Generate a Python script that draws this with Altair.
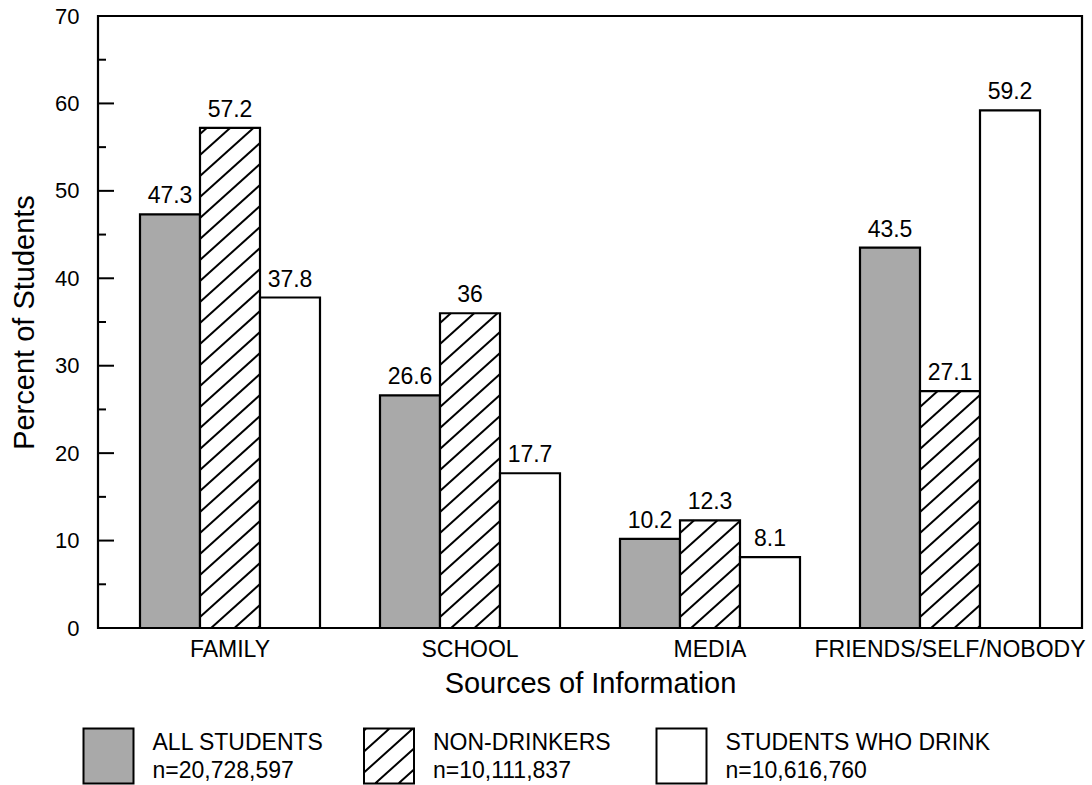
import math
import altair as alt
import pandas as pd

# ---------------- data ----------------
categories = ["FAMILY", "SCHOOL", "MEDIA", "FRIENDS/SELF/NOBODY"]
series = ["ALL STUDENTS", "NON-DRINKERS", "STUDENTS WHO DRINK"]
series_n = ["n=20,728,597", "n=10,111,837", "n=10,616,760"]
all_students = [47.3, 26.6, 10.2, 43.5]
non_drinkers = [57.2, 36.0, 12.3, 27.1]
drinkers = [37.8, 17.7, 8.1, 59.2]
y_major = [0, 10, 20, 30, 40, 50, 60, 70]
y_minor = [5, 15, 25, 35, 45, 55, 65]

# ---------------- styles / layout ----------------
FONT = "Liberation Sans"
W, H = 984, 612
Y_MAX = 70
PAD_IN, PAD_OUT = 0.25, 0.175
X_SPAN = len(categories) - PAD_IN + 2 * PAD_OUT
SUB = (1 - PAD_IN) / len(series)
PX_X = W / X_SPAN
PX_Y = H / Y_MAX
GRAY = "#a9a9a9"
HATCH_SLOPE = 0.9
HATCH_GAP = 21.0
HATCH_PHASE = -10.0
HATCH_IDX = 1
SW, SH = 50, 55                      # legend swatch size (px)
LEGEND_X = [10.5, 291, 583.5]        # legend swatch centres (px from plot left)
LEG_SWATCH_Y = H + 128
LEG_LINE1_Y = H + 122
LEG_LINE2_Y = H + 150


def hatch_segments(width_px, height_px):
    m = HATCH_SLOPE
    c = HATCH_PHASE - HATCH_GAP * math.ceil((m * width_px + HATCH_PHASE) / HATCH_GAP)
    segs = []
    while c < height_px:
        u0 = max(0.0, -c / m)
        u1 = min(width_px, (height_px - c) / m)
        if u1 - u0 > 0.5:
            segs.append((u0, m * u0 + c, u1, m * u1 + c))
        c += HATCH_GAP
    return segs


# bar table
rows = []
for cat, a, n, d in zip(categories, all_students, non_drinkers, drinkers):
    for s, v in zip(series, (a, n, d)):
        rows.append({"cat": cat, "series": s, "value": v})
bars_df = pd.DataFrame(rows)

# hatch lines derived from the non-drinker values
hrows = []
for i, v in enumerate(non_drinkers):
    xl = PAD_OUT + i + SUB * HATCH_IDX
    for u0, w0, u1, w1 in hatch_segments(SUB * PX_X, v * PX_Y):
        hrows.append({"x": xl + u0 / PX_X, "value": w0 / PX_Y,
                      "x2": xl + u1 / PX_X, "value2": w1 / PX_Y})
hatch_df = pd.DataFrame(hrows)

# legend swatch shapes (path units: half-width = 1)
half = SW / 2.0
r = SH / SW
rect_path = f"M-1,{-r}L1,{-r}L1,{r}L-1,{r}Z"
hp = rect_path
for u0, w0, u1, w1 in hatch_segments(SW, SH):
    hp += f"M{u0 / half - 1:.3f},{r - w0 / half:.3f}L{u1 / half - 1:.3f},{r - w1 / half:.3f}"
hatch_path = hp

legend_df = pd.DataFrame({"series": series, "n": series_n, "lx": LEGEND_X})
major_df = pd.DataFrame({"value": y_major})
minor_df = pd.DataFrame({"value": y_minor})

fill_scale = alt.Scale(domain=series, range=[GRAY, "white", "white"])
y_scale = alt.Scale(domain=[0, Y_MAX], nice=False, zero=True)
y_axis = alt.Axis(title="Percent of Students", values=y_major, ticks=False,
                  tickSize=0, domain=False, grid=False, labelPadding=19,
                  titlePadding=15, labelFontSize=22, titleFontSize=29,
                  labelColor="black", titleColor="black",
                  titleFontWeight="normal", labelFont=FONT, titleFont=FONT)
Y = alt.Y("value:Q", scale=y_scale, axis=y_axis)

# ---------------- main bars + labels ----------------
base = alt.Chart(bars_df).encode(
    x=alt.X("cat:N", sort=categories,
            scale=alt.Scale(paddingInner=PAD_IN, paddingOuter=PAD_OUT),
            axis=alt.Axis(title="Sources of Information", labelAngle=0, ticks=False,
                          tickSize=0, domain=False, labelPadding=10, titlePadding=8,
                          labelFontSize=23, titleFontSize=29, labelColor="black",
                          titleColor="black", titleFontWeight="normal",
                          labelFont=FONT, titleFont=FONT, labelLimit=0)),
    xOffset=alt.XOffset("series:N", sort=series,
                        scale=alt.Scale(paddingInner=0, paddingOuter=0)),
    y=Y,
)
bars = base.mark_bar(stroke="black", strokeWidth=2.2).encode(
    fill=alt.Fill("series:N", scale=fill_scale, legend=None)
)
labels = base.mark_text(baseline="bottom", dy=-6, fontSize=23, font=FONT,
                        color="black").encode(text=alt.Text("value:Q"))
main = alt.layer(bars, labels)

# ---------------- hatching ----------------
hatch = alt.Chart(hatch_df).mark_rule(color="black", strokeWidth=2).encode(
    x=alt.X("x:Q", scale=alt.Scale(domain=[0, X_SPAN], nice=False, zero=False), axis=None),
    x2="x2:Q",
    y=Y,
    y2="value2:Q",
)

# ---------------- inward y ticks ----------------
ticks_major = alt.Chart(major_df).mark_rule(color="black", strokeWidth=2).encode(
    y=Y, x=alt.value(0), x2=alt.value(16))
ticks_minor = alt.Chart(minor_df).mark_rule(color="black", strokeWidth=2).encode(
    y=Y, x=alt.value(0), x2=alt.value(8))

# ---------------- custom legend ----------------
leg_base = alt.Chart(legend_df).encode(x=alt.X("lx:Q", scale=None, axis=None))
swatch = leg_base.mark_point(filled=True, stroke="black", strokeWidth=2,
                             size=SW * SW, opacity=1).encode(
    y=alt.value(LEG_SWATCH_Y),
    shape=alt.Shape("series:N", scale=alt.Scale(domain=series,
                    range=[rect_path, hatch_path, rect_path]), legend=None),
    fill=alt.Fill("series:N", scale=fill_scale, legend=None),
)
leg_t1 = leg_base.mark_text(align="left", baseline="alphabetic", dx=half + 19,
                            fontSize=23, font=FONT, color="black").encode(
    y=alt.value(LEG_LINE1_Y), text="series:N")
leg_t2 = leg_base.mark_text(align="left", baseline="alphabetic", dx=half + 19,
                            fontSize=23, font=FONT, color="black").encode(
    y=alt.value(LEG_LINE2_Y), text="n:N")

chart = alt.layer(main, hatch, ticks_major, ticks_minor, swatch, leg_t1, leg_t2).resolve_scale(
    x="independent"
).properties(
    width=W, height=H,
    autosize=alt.AutoSizeParams(type="none"),
    padding={"left": 98, "top": 16, "right": 10, "bottom": 157},
).configure(font=FONT).configure_view(stroke="black", strokeWidth=2.2)

chart.save("out.html", embed_options={"renderer": "svg", "actions": False})
